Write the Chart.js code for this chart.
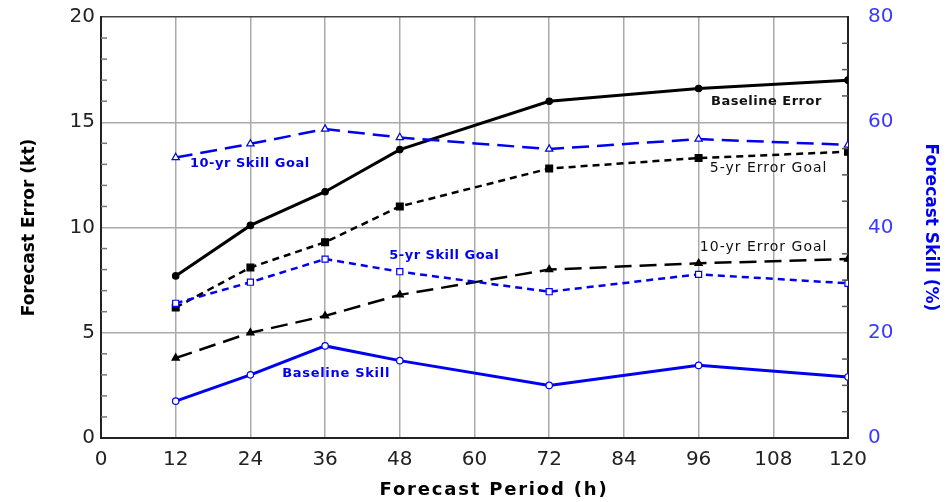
<!DOCTYPE html>
<html>
<head>
<meta charset="utf-8">
<script src="https://cdn.jsdelivr.net/npm/chart.js@4/dist/chart.umd.min.js"></script>
<style>
  body { margin: 0; background: #fff; }
  #wrap { width: 947px; height: 502px; position: relative; }
</style>
</head>
<body>
<div id="wrap"><canvas id="chart"></canvas></div>
<script>
const periods = [12, 24, 36, 48, 72, 96, 120];

// left axis, kt
const baselineError = [7.7, 10.1, 11.7, 13.7, 16.0, 16.6, 17.0];
const fiveYrErrorGoal = [6.2, 8.1, 9.3, 11.0, 12.8, 13.3, 13.6];
const tenYrErrorGoal = [3.8, 5.0, 5.8, 6.8, 8.0, 8.3, 8.5];

// right axis, %
const baselineSkill = [7.0, 12.0, 17.5, 14.7, 10.0, 13.8, 11.6];
const fiveYrSkillGoal = [25.6, 29.6, 34.0, 31.6, 27.8, 31.1, 29.4];
const tenYrSkillGoal = [53.3, 55.9, 58.7, 57.1, 54.9, 56.8, 55.7];

const periodTicks = [0, 12, 24, 36, 48, 60, 72, 84, 96, 108, 120];
const errorTicks = [0, 5, 10, 15, 20];
const skillTicks = [0, 20, 40, 60, 80];

const BLUE = '#0000f0';
const FONT = '"DejaVu Sans", sans-serif';

// text labels placed next to the lines (data coords)
const lineLabels = [
    { text: 'Baseline Error', x: 98, y: 15.96, axis: 'y', color: '#111', font: 'bold 13px ' + FONT, sp: 0.5 },
    { text: '5-yr Error Goal', x: 97.8, y: 12.83, axis: 'y', color: '#111', font: '14px ' + FONT, sp: 1 },
    { text: '10-yr Error Goal', x: 96.2, y: 9.07, axis: 'y', color: '#111', font: '14px ' + FONT, sp: 1 },
    { text: '10-yr Skill Goal', x: 14.3, y: 52.1, axis: 'y2', color: BLUE, font: 'bold 13px ' + FONT, sp: 0.5 },
    { text: '5-yr Skill Goal', x: 46.3, y: 34.6, axis: 'y2', color: BLUE, font: 'bold 13px ' + FONT, sp: 0.5 },
    { text: 'Baseline Skill', x: 29.1, y: 12.2, axis: 'y2', color: BLUE, font: 'bold 13px ' + FONT, sp: 0.7 },
];

function pts(values) {
    return values.map((v, i) => ({ x: periods[i], y: v }));
}

function series(label, values, axis, color, dash, style, filled, width) {
    let r = 3.2;
    if (style === 'rect') r = filled ? 4.8 : 4.3;
    if (style === 'triangle') r = 4.2;
    return {
        label: label,
        data: pts(values),
        yAxisID: axis,
        borderColor: color,
        borderWidth: width,
        borderDash: dash,
        pointStyle: style,
        pointRadius: r,
        pointBorderWidth: 1.2,
        pointBorderColor: color,
        pointBackgroundColor: filled ? color : '#fff',
        fill: false,
        tension: 0
    };
}

const datasets = [
    series('Baseline Skill', baselineSkill, 'y2', BLUE, [], 'circle', false, 3),
    series('5-yr Skill Goal', fiveYrSkillGoal, 'y2', BLUE, [7, 5], 'rect', false, 2.5),
    series('10-yr Skill Goal', tenYrSkillGoal, 'y2', BLUE, [17, 8], 'triangle', false, 2.5),
    series('Baseline Error', baselineError, 'y', '#000', [], 'circle', true, 3),
    series('5-yr Error Goal', fiveYrErrorGoal, 'y', '#000', [7, 5], 'rect', true, 2.5),
    series('10-yr Error Goal', tenYrErrorGoal, 'y', '#000', [17, 8], 'triangle', true, 2.5),
];

const extras = {
    id: 'extras',
    afterDraw(chart) {
        const { ctx, chartArea, scales } = chart;
        ctx.save();
        // minor ticks inside the frame
        ctx.lineWidth = 1.5;
        ctx.strokeStyle = '#777';
        for (let v = 1; v < 20; v++) {
            if (v % 5 === 0) continue;
            const py = scales.y.getPixelForValue(v);
            ctx.beginPath();
            ctx.moveTo(chartArea.left, py);
            ctx.lineTo(chartArea.left + 6, py);
            ctx.stroke();
        }
        ctx.strokeStyle = '#555';
        for (let v = 5; v < 80; v += 5) {
            if (v % 20 === 0) continue;
            const py = scales.y2.getPixelForValue(v);
            ctx.beginPath();
            ctx.moveTo(chartArea.right - 6, py);
            ctx.lineTo(chartArea.right, py);
            ctx.stroke();
        }
        // line labels
        ctx.textBaseline = 'middle';
        ctx.textAlign = 'left';
        for (const l of lineLabels) {
            ctx.font = l.font;
            ctx.letterSpacing = l.sp + 'px';
            ctx.fillStyle = l.color;
            ctx.fillText(l.text, scales.x.getPixelForValue(l.x), scales[l.axis].getPixelForValue(l.y));
        }
        // x axis title
        ctx.font = 'bold 18px ' + FONT;
        ctx.letterSpacing = '1.8px';
        ctx.fillStyle = '#000';
        ctx.textAlign = 'center';
        ctx.fillText('Forecast Period (h)', 494, 490);
        ctx.restore();
    }
};

const ctx = document.querySelector('#chart').getContext('2d');
const chart = new Chart(ctx, {
    type: 'line',
    data: { datasets: datasets },
    options: {
        responsive: true,
        maintainAspectRatio: false,
        animation: false,
        layout: { padding: { top: 17, left: 0, right: 0, bottom: 0 } },
        plugins: {
            legend: { display: false },
            tooltip: { enabled: false }
        },
        scales: {
            x: {
                type: 'linear',
                min: 0,
                max: 120,
                afterBuildTicks: (s) => { s.ticks = periodTicks.map(v => ({ value: v })); },
                afterFit: (s) => { s.height = 64; s.paddingLeft = 0; s.paddingRight = 0; },
                grid: { color: '#aaa', lineWidth: 1.5, drawTicks: false },
                border: { color: '#222', width: 2 },
                ticks: { color: '#222', padding: 10, font: { family: FONT, size: 20 } }
            },
            y: {
                position: 'left',
                min: 0,
                max: 20,
                afterBuildTicks: (s) => { s.ticks = errorTicks.map(v => ({ value: v })); },
                afterFit: (s) => { s.width = 101; s.paddingTop = 0; s.paddingBottom = 0; },
                grid: {
                    color: (c) => c.tick && c.tick.value === 20 ? '#444' : '#aaa',
                    lineWidth: 1.5,
                    drawTicks: false
                },
                border: { color: '#222', width: 2 },
                ticks: { color: '#222', padding: 6, font: { family: FONT, size: 20 } },
                title: {
                    display: true,
                    text: 'Forecast Error (kt)',
                    color: '#000',
                    font: { family: FONT, size: 17, weight: 'bold' },
                    padding: { top: 19, bottom: 0 }
                }
            },
            y2: {
                position: 'right',
                min: 0,
                max: 80,
                afterBuildTicks: (s) => { s.ticks = skillTicks.map(v => ({ value: v })); },
                afterFit: (s) => { s.width = 99; s.paddingTop = 0; s.paddingBottom = 0; },
                grid: { drawOnChartArea: false, drawTicks: false },
                border: { color: '#222', width: 2 },
                ticks: { color: '#3a3aff', padding: 20, font: { family: FONT, size: 20 } },
                title: {
                    display: true,
                    text: 'Forecast Skill (%)',
                    color: BLUE,
                    font: { family: FONT, size: 17, weight: 'bold' },
                    padding: { top: 6, bottom: 0 }
                }
            }
        }
    },
    plugins: [extras]
});
</script>
</body>
</html>
